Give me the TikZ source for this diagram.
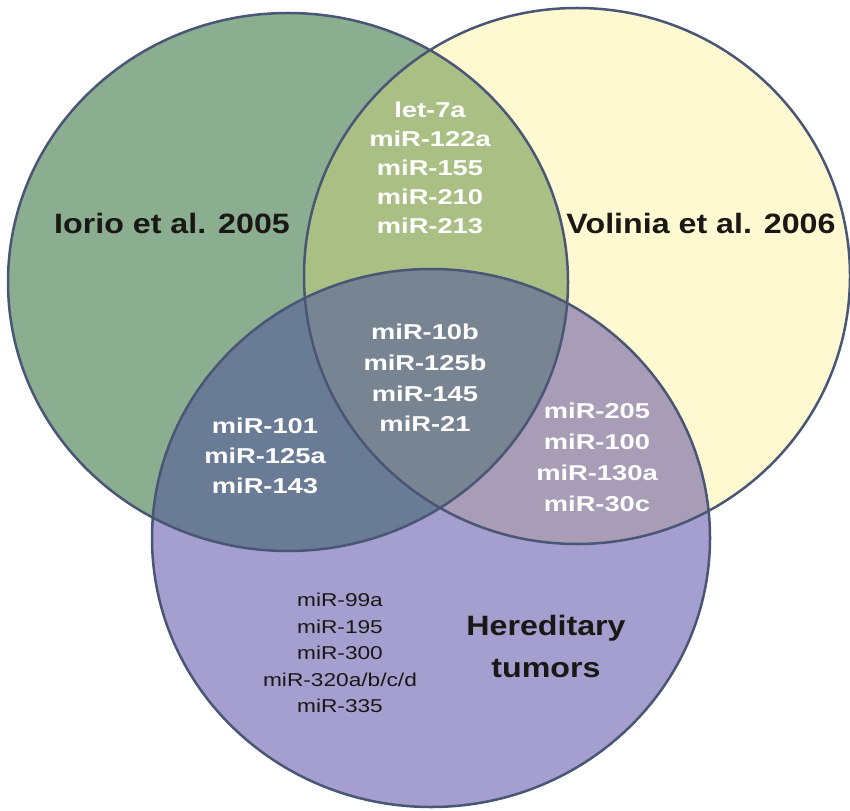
\documentclass[tikz,border=0pt]{standalone}
\usepackage{fontspec}
\setmainfont{Liberation Sans}
\newfontfamily\titlefont[FakeStretch=1.15]{Liberation Sans}
\newfontfamily\mirfont[FakeStretch=1.27]{Liberation Sans}
\newfontfamily\listfont[FakeStretch=1.22]{Liberation Sans}

\definecolor{iorio}{RGB}{140,174,144}
\definecolor{volinia}{RGB}{254,249,208}
\definecolor{hered}{RGB}{165,159,207}
\definecolor{iorvol}{RGB}{170,191,132}
\definecolor{iorher}{RGB}{106,123,150}
\definecolor{volher}{RGB}{168,156,182}
\definecolor{allthree}{RGB}{120,132,145}
\definecolor{rimcol}{RGB}{74,86,118}
\definecolor{inkcol}{RGB}{26,24,22}

% the three sets
\def\iorioset{(288,282) ellipse (280 and 269)}
\def\voliniaset{(577,276) ellipse (273 and 268)}
\def\heredset{(431,538) ellipse (279 and 269)}

\tikzset{
  rim/.style={draw=rimcol, line width=2.5pt},
  setname/.style={text=inkcol, inner sep=0pt, align=center,
    font=\titlefont\bfseries\fontsize{28}{42}\selectfont},
  mirlist/.style={text=white, inner sep=0pt, align=center,
    font=\mirfont\bfseries\fontsize{21.5}{#1}\selectfont},
  mirlist/.default=30,
  darklist/.style={text=inkcol, inner sep=0pt, align=center,
    font=\listfont\fontsize{18.6}{26.5}\selectfont}
}

\begin{document}
\begin{tikzpicture}[x=1pt, y=-1pt]
\useasboundingbox (0,0) rectangle (850,810);

% fills
\fill[iorio] \iorioset;
\fill[volinia] \voliniaset;
\fill[hered] \heredset;
\begin{scope}
  \clip \iorioset;
  \fill[iorvol] \voliniaset;
  \fill[iorher] \heredset;
\end{scope}
\begin{scope}
  \clip \voliniaset;
  \fill[volher] \heredset;
\end{scope}
\begin{scope}
  \clip \iorioset;
  \clip \voliniaset;
  \fill[allthree] \heredset;
\end{scope}

% outlines
\draw[rim] \iorioset;
\draw[rim] \voliniaset;
\draw[rim] \heredset;

% set names
\node[setname] (iorio) at (172,223) {Iorio et al. 2005};
\node[setname] (volinia) at (701,223) {Volinia et al. 2006};
\node[setname] (hered) at (546,646) {Hereditary\\tumors};

% miRNA lists
\node[mirlist=29] (iv) at (430,168) {let-7a\\miR-122a\\miR-155\\miR-210\\miR-213};
\node[mirlist=30.7] (ivh) at (425,378) {miR-10b\\miR-125b\\miR-145\\miR-21};
\node[mirlist] (ih) at (265,456) {miR-101\\miR-125a\\miR-143};
\node[mirlist=31] (vh) at (597,457) {miR-205\\miR-100\\miR-130a\\miR-30c};
\node[darklist] (h) at (340,653) {miR-99a\\miR-195\\miR-300\\miR-320a/b/c/d\\miR-335};

\end{tikzpicture}
\end{document}
